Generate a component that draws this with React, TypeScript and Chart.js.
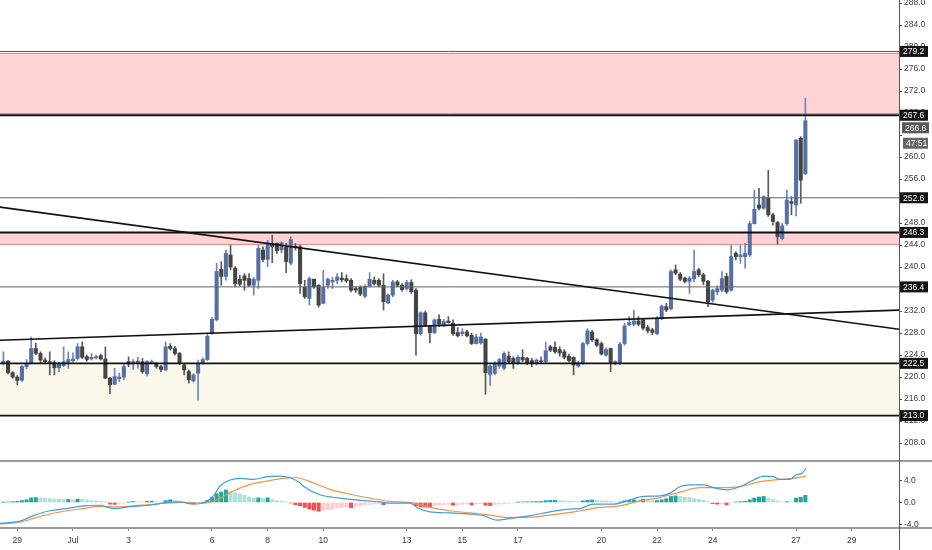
import React, { useEffect, useRef } from "react";
import { Chart, registerables } from "chart.js";

Chart.register(...registerables);

// ---- time axis (days counted from Jun 28 00:00) ----
const START_DAY = 0.5; // first candle: Jun 28 12:00
const STEP_DAY = 1 / 6; // 4h candles
const X_RANGE = [0.378, 32.7];
const X_TICK_DAYS = [1, 3, 5, 8, 10, 12, 15, 17, 19, 22, 24, 26, 29, 31];
const X_TICK_LABELS = ["29", "Jul", "3", "6", "8", "10", "13", "15", "17", "20", "22", "24", "27", "29"];

// ---- price pane ----
const PRICE_RANGE = [204.75, 288.55];
const PRICE_TICKS = [208, 212, 216, 220, 224, 228, 232, 236, 240, 244, 248, 252, 256, 260, 264, 268, 272, 276, 280, 284, 288];

const OPEN = [
  222.6, 222.9, 220.8, 220.0, 219.4, 221.9, 222.5, 225.2, 224.3, 223.1,
  222.8, 222.6, 221.7, 222.1, 222.7, 223.0, 223.4, 225.5, 223.7, 223.3,
  223.5, 223.9, 223.3, 219.8, 218.7, 219.7, 220.0, 222.8, 222.4, 222.5,
  222.8, 220.6, 222.6, 222.5, 221.9, 221.3, 225.6, 225.2, 224.3, 222.2,
  221.0, 219.3, 220.7, 222.5, 223.2, 228.0, 230.4, 239.6, 238.3, 242.2,
  239.8, 237.8, 238.4, 237.9, 236.7, 237.6, 243.1, 241.4, 244.3, 244.3,
  243.1, 243.6, 240.7, 243.8, 243.7, 236.3, 234.3, 237.8, 236.7, 233.4,
  236.7, 237.3, 237.6, 238.0, 237.9, 237.6, 236.1, 236.3, 234.7, 236.5,
  237.6, 237.6, 236.7, 233.5, 234.9, 237.3, 236.7, 236.1, 237.2, 235.8,
  227.9, 231.7, 229.2, 228.1, 230.5, 229.3, 230.2, 229.8, 228.1, 227.9,
  228.2, 227.6, 226.1, 226.2, 226.9, 220.5, 220.7, 222.0, 221.6, 223.8,
  223.4, 222.5, 223.6, 223.4, 223.0, 222.6, 222.9, 222.8, 225.5, 225.4,
  225.0, 224.6, 223.8, 223.6, 222.0, 222.5, 226.1, 228.2, 226.8, 226.1,
  224.0, 225.2, 222.4, 222.5, 226.1, 229.5, 229.6, 230.2, 230.4, 229.0,
  228.6, 227.9, 230.6, 232.8, 232.4, 239.5, 238.7, 238.0, 237.4, 237.9,
  239.5, 238.6, 237.4, 234.0, 235.5, 235.8, 238.3, 235.8, 242.5, 241.9,
  241.9, 242.2, 247.9, 251.3, 250.7, 252.5, 249.5, 248.1, 245.2, 247.9,
  251.9, 251.3, 263.4, 257.0,
];
const HIGH = [
  224.6, 223.0, 221.0, 220.3, 222.1, 223.2, 227.3, 226.2, 224.6, 223.5,
  224.6, 223.0, 222.7, 225.5, 224.6, 224.4, 226.1, 226.4, 224.0, 224.3,
  224.0, 224.2, 225.5, 219.9, 221.6, 220.7, 222.5, 223.7, 223.2, 223.6,
  223.4, 223.0, 223.1, 222.7, 222.2, 226.4, 226.1, 225.6, 224.5, 222.5,
  221.3, 220.6, 223.1, 223.5, 228.0, 230.8, 240.7, 241.0, 243.1, 244.0,
  240.1, 238.5, 238.8, 238.8, 238.1, 244.0, 243.7, 244.9, 245.8, 244.4,
  244.6, 244.3, 245.5, 244.3, 244.0, 237.6, 238.2, 237.8, 236.8, 239.4,
  238.0, 238.2, 238.8, 239.0, 238.6, 237.9, 236.4, 236.6, 236.8, 239.0,
  238.2, 237.9, 238.8, 235.1, 237.6, 237.6, 237.0, 237.6, 237.7, 236.1,
  231.9, 232.0, 229.3, 230.6, 231.3, 230.5, 231.0, 230.4, 229.0, 228.8,
  228.5, 228.0, 227.8, 228.0, 227.0, 222.2, 222.8, 223.4, 224.6, 224.6,
  223.7, 223.9, 225.0, 223.6, 223.4, 223.3, 223.7, 226.4, 225.8, 226.4,
  225.5, 225.0, 224.2, 223.7, 222.9, 226.3, 228.8, 228.5, 227.0, 226.4,
  225.3, 225.3, 223.0, 226.3, 229.8, 231.0, 232.2, 231.0, 230.7, 229.4,
  228.9, 231.0, 233.1, 233.4, 239.5, 240.4, 239.0, 238.2, 238.3, 243.1,
  239.8, 238.9, 237.6, 236.0, 236.6, 239.2, 238.9, 244.0, 242.8, 244.0,
  244.3, 248.3, 254.0, 254.3, 253.0, 257.6, 249.8, 248.3, 247.95, 254.0,
  252.8, 263.2, 263.7, 270.7,
];
const LOW = [
  222.2, 220.6, 219.8, 218.6, 219.2, 221.5, 222.4, 224.1, 222.5, 222.6,
  220.4, 220.4, 221.0, 221.9, 221.6, 222.7, 223.1, 223.4, 222.9, 223.1,
  223.3, 223.1, 219.7, 217.0, 218.6, 219.2, 219.5, 221.9, 221.4, 221.6,
  220.7, 220.2, 222.4, 221.6, 221.0, 221.2, 224.9, 224.0, 222.3, 220.4,
  218.9, 219.1, 215.8, 222.3, 223.0, 227.8, 230.2, 236.7, 237.6, 239.5,
  236.4, 236.5, 235.8, 236.5, 234.9, 236.1, 241.0, 240.1, 240.8, 242.5,
  242.6, 239.0, 240.4, 243.1, 235.2, 234.3, 233.1, 236.1, 232.7, 233.3,
  236.1, 236.1, 237.0, 237.3, 237.2, 235.5, 235.4, 234.8, 234.4, 236.4,
  236.7, 236.4, 232.2, 233.3, 234.6, 236.4, 235.6, 235.8, 235.2, 224.0,
  227.6, 229.2, 226.2, 227.9, 229.2, 229.2, 229.8, 227.6, 227.3, 227.5,
  227.3, 225.9, 226.0, 226.0, 216.9, 218.5, 220.4, 221.6, 221.3, 222.6,
  221.6, 222.3, 222.8, 222.3, 221.9, 222.2, 222.5, 222.6, 224.6, 224.3,
  223.8, 223.3, 222.7, 220.4, 221.8, 222.3, 225.8, 226.5, 225.5, 224.0,
  223.8, 221.0, 222.2, 222.3, 225.8, 229.3, 229.3, 229.3, 228.6, 228.0,
  227.7, 227.7, 230.4, 231.9, 232.2, 238.6, 237.5, 237.1, 235.2, 237.3,
  238.3, 236.8, 232.8, 233.6, 235.0, 235.5, 235.2, 235.6, 241.3, 240.7,
  239.8, 241.9, 247.8, 250.4, 250.5, 249.2, 247.6, 244.2, 244.9, 247.6,
  249.5, 249.3, 251.6, 256.8,
];
const CLOSE = [
  222.9, 220.8, 220.0, 219.4, 221.9, 222.5, 225.2, 224.3, 223.1, 222.8,
  222.5, 221.7, 222.5, 222.8, 223.2, 223.3, 225.5, 223.6, 223.2, 223.6,
  223.7, 223.3, 219.8, 218.6, 220.1, 220.0, 221.9, 222.4, 222.8, 222.9,
  221.0, 222.8, 222.8, 221.9, 221.4, 225.5, 225.2, 224.3, 222.5, 221.3,
  219.5, 220.4, 222.5, 223.2, 227.4, 230.5, 239.2, 238.3, 242.5, 240.0,
  237.0, 236.9, 237.6, 236.7, 237.8, 243.4, 241.4, 244.4, 243.7, 243.0,
  244.4, 241.0, 245.0, 243.5, 237.0, 234.6, 237.9, 236.4, 233.1, 236.3,
  237.8, 237.6, 238.2, 237.7, 237.5, 235.8, 235.8, 235.1, 236.5, 237.8,
  237.0, 236.7, 233.7, 234.9, 237.3, 236.7, 235.9, 237.2, 235.5, 227.9,
  231.7, 229.5, 228.1, 230.4, 229.6, 230.1, 229.9, 227.9, 227.5, 228.2,
  227.5, 226.1, 227.3, 227.3, 220.8, 222.0, 222.5, 223.2, 224.3, 222.8,
  222.5, 223.6, 223.1, 222.6, 222.6, 223.1, 222.8, 224.8, 224.9, 224.6,
  224.4, 223.6, 223.0, 222.2, 222.6, 226.1, 228.4, 226.8, 225.8, 224.2,
  225.0, 222.5, 222.8, 226.0, 229.3, 229.9, 230.2, 229.6, 228.9, 228.4,
  228.1, 230.7, 232.9, 232.2, 239.2, 238.9, 237.8, 237.4, 238.0, 239.2,
  238.6, 237.4, 233.7, 235.8, 236.1, 237.9, 235.5, 241.9, 241.9, 242.2,
  242.5, 247.9, 250.5, 250.7, 252.8, 249.5, 248.3, 245.5, 247.5, 252.2,
  251.6, 263.1, 255.8, 266.6,
];

// horizontal levels, zones and trend lines (price values; trend points are [day, price])
const LEVELS = [279.2, 267.6, 252.6, 246.3, 236.4, 222.5, 213.0];
const RED_ZONES = [
  [279.0, 268.0],
  [246.3, 244.2],
];
const SUPPORT_ZONE = [222.5, 213.0];
const TREND_DOWN = [
  [0.378, 250.9],
  [28.78, 231.4],
];
const TREND_UP = [
  [0.378, 226.7],
  [29.86, 231.7],
];
const COUNTDOWN = "47:51";

// ---- MACD pane ----
const MACD_RANGE = [-4.64, 7.55];
const MACD_TICKS = [-4, 0, 4];
const HIST = [
  0.05, 0.1, 0.15, 0.2, 0.35, 0.5, 0.85, 0.9, 0.85, 0.8, 0.7, 0.65, 0.6, 0.55, 0.55, 0.5, 0.6, 0.55, 0.45, 0.35, 0.3, 0.2,
  0.05, -0.3, -0.35, -0.25, -0.05, 0.05, 0.15, 0.12, 0.1, 0.2, 0.25, 0.15, 0.1, 0.35, 0.5, 0.4, 0.25, 0.05, -0.15, -0.2, -0.1, 0.05,
  0.4, 0.9, 1.6, 1.9, 2.3, 2.0, 1.8, 1.6, 1.3, 1.0, 0.8, 0.85, 0.7, 0.85, 0.5, 0.35, 0.25, 0.05, -0.1, -0.4, -0.6,
  -0.9, -1.2, -1.4, -1.6, -1.4, -1.3, -1.2, -1.0, -0.9, -0.8, -0.95, -0.7, -0.6, -0.4, -0.35, -0.3, -0.2, -0.4, -0.2, -0.15, -0.1, -0.05, -0.02, -0.05,
  -0.6, -0.8, -0.85, -0.9, -0.6, -0.5, -0.4, -0.35, -0.5, -0.4, -0.3, -0.25, -0.45, -0.3, -0.2, -0.5, -0.55, -0.4, -0.3, -0.25, -0.15, -0.08,
  0.05, 0.1, 0.12, 0.15, 0.18, 0.2, 0.35, 0.4, 0.4, 0.35, 0.3, 0.25, 0.2, 0.15, 0.3, 0.4,
  0.45, 0.4, 0.35, 0.3, 0.2, 0.08, 0.1, 0.3, 0.4, 0.5, 0.45, 0.6, 0.45, 0.3, 0.35, 0.5, 0.7, 1.1, 1.2, 1.1, 1.0, 0.9, 0.7, 0.6,
  0.4, 0.15, -0.2, -0.3, -0.25, -0.45, -0.1, 0.1, 0.15, 0.2, 0.5, 0.8, 1.0, 1.1, 0.8, 0.55, 0.3, 0.1, 0.15, 0.1, 0.8, 0.95, 1.3,
];
const MACD_POINTS = [
  [0.378, -3.8], [1.097, -3.4], [1.575, -2.4], [2.175, -1.5], [2.776, -1.1], [3.372, -0.6], [3.973, -0.5],
  [4.452, -1.1], [5.17, -0.7], [5.77, -0.5], [6.37, 0.0], [6.85, 0.1], [7.33, -0.3], [7.69, -0.1], [8.05, 1.2],
  [8.29, 3.0], [8.65, 4.1], [9.01, 4.4], [9.49, 4.2], [9.97, 4.7], [10.45, 4.8], [10.81, 4.5], [11.16, 3.6],
  [11.3, 2.9], [11.88, 1.4], [12.6, 0.8], [13.32, 0.4], [14.04, 0.1], [14.4, -0.1], [15.12, -0.1], [15.36, -0.9],
  [15.84, -1.7], [16.56, -1.9], [17.28, -2.1], [17.76, -2.4], [18.24, -3.2], [18.72, -2.9], [19.44, -2.4],
  [20.15, -1.7], [20.87, -1.2], [21.23, -1.1], [21.71, -0.3], [22.43, -0.3], [23.03, 0.5], [23.51, 1.1],
  [24.11, 1.2], [24.47, 1.7], [24.83, 2.9], [25.19, 3.2], [25.67, 3.2], [26.03, 2.7], [26.51, 2.3], [26.99, 2.9],
  [27.47, 4.1], [27.83, 4.8], [28.18, 4.7], [28.42, 4.2], [28.78, 4.2], [29.02, 5.1], [29.21, 5.3], [29.36, 6.2],
];
const SIGNAL_POINTS = [
  [0.378, -3.9], [1.097, -3.6], [1.575, -2.9], [2.175, -2.1], [2.776, -1.5], [3.372, -1.1], [3.973, -0.7],
  [4.57, -0.8], [5.17, -0.6], [5.77, -0.4], [6.37, -0.1], [7.09, 0.0], [7.69, -0.1], [8.17, 0.5], [8.77, 2.1],
  [9.37, 3.3], [9.97, 3.9], [10.56, 4.4], [11.05, 4.5], [11.52, 3.8], [11.88, 3.1], [12.24, 2.4], [12.96, 1.5],
  [13.68, 0.8], [14.4, 0.2], [15.12, 0.0], [15.84, -0.9], [16.56, -1.5], [17.28, -1.9], [18.0, -2.3],
  [18.6, -2.7], [19.44, -2.7], [20.15, -2.3], [20.87, -1.8], [21.23, -1.5], [21.95, -0.9], [22.67, -0.6],
  [23.39, 0.3], [24.11, 0.9], [24.83, 1.9], [25.55, 2.7], [26.27, 2.7], [26.99, 2.9], [27.71, 3.8],
  [28.42, 4.2], [28.9, 4.4], [29.36, 4.8],
];

// ---- styles ----
const FONT = "'Liberation Sans', Arial, sans-serif";
const UP = "#5670a6";
const DOWN = "#454545";
const UP_WICK = "#6f86b8";
const DOWN_WICK = "#5a5a5a";
const LEVEL_COLORS = ["#555555", "#111111", "#666666", "#111111", "#666666", "#111111", "#111111"];
const LEVEL_WIDTHS = [1, 2, 1, 2, 1, 1.6, 1.6];

function histColor(v: number, prev: number) {
  if (v >= 0) return v >= prev ? "#26a69a" : "#b2dfdb";
  return v < prev ? "#ef5350" : "#ffcdd2";
}

const overlay = {
  id: "overlay",
  beforeDatasetsDraw(chart: any) {
    const { ctx, chartArea } = chart;
    const ys = chart.scales.y;
    const L = chartArea.left;
    const R = chartArea.right;
    ctx.save();
    const s0 = ys.getPixelForValue(SUPPORT_ZONE[0]);
    const s1 = ys.getPixelForValue(SUPPORT_ZONE[1]);
    ctx.fillStyle = "#f9f8eb";
    ctx.fillRect(L, s0, R - L, s1 - s0);
    for (const [a, b] of RED_ZONES) {
      const ya = ys.getPixelForValue(a);
      const yb = ys.getPixelForValue(b);
      ctx.fillStyle = "#ffd2d5";
      ctx.fillRect(L, ya, R - L, yb - ya);
      ctx.strokeStyle = "#ee8a8f";
      ctx.lineWidth = 1;
      for (const p of [ya, yb]) {
        ctx.beginPath();
        ctx.moveTo(L, Math.round(p) + 0.5);
        ctx.lineTo(R, Math.round(p) + 0.5);
        ctx.stroke();
      }
    }
    ctx.restore();
  },
  afterDatasetsDraw(chart: any) {
    const { ctx, chartArea } = chart;
    const ys = chart.scales.y;
    const xs = chart.scales.x;
    const L = chartArea.left;
    const R = chartArea.right;
    ctx.save();
    ctx.beginPath();
    ctx.rect(L, ys.top, R - L, ys.bottom - ys.top);
    ctx.clip();
    LEVELS.forEach((v, i) => {
      const p = ys.getPixelForValue(v);
      ctx.strokeStyle = LEVEL_COLORS[i];
      ctx.lineWidth = LEVEL_WIDTHS[i];
      ctx.beginPath();
      ctx.moveTo(L, p);
      ctx.lineTo(R, p);
      ctx.stroke();
    });
    const tL = xs.getValueForPixel(L);
    const tR = xs.getValueForPixel(R);
    for (const line of [TREND_DOWN, TREND_UP]) {
      const [[t0, v0], [t1, v1]] = line;
      const k = (v1 - v0) / (t1 - t0);
      ctx.strokeStyle = "#111111";
      ctx.lineWidth = 1.6;
      ctx.beginPath();
      ctx.moveTo(L, ys.getPixelForValue(v0 + k * (tL - t0)));
      ctx.lineTo(R, ys.getPixelForValue(v0 + k * (tR - t0)));
      ctx.stroke();
    }
    ctx.restore();
  },
  afterDraw(chart: any) {
    const { ctx, chartArea, width, height } = chart;
    const ys = chart.scales.y;
    ctx.save();
    ctx.strokeStyle = "#9b9b9b";
    ctx.lineWidth = 2;
    ctx.beginPath();
    ctx.moveTo(0, ys.bottom);
    ctx.lineTo(width, ys.bottom);
    ctx.stroke();
    ctx.beginPath();
    ctx.moveTo(0, chartArea.bottom);
    ctx.lineTo(width, chartArea.bottom);
    ctx.stroke();
    ctx.strokeStyle = "#555555";
    ctx.lineWidth = 1;
    ctx.beginPath();
    ctx.moveTo(chartArea.right + 0.5, 0);
    ctx.lineTo(chartArea.right + 0.5, height);
    ctx.stroke();

    const boxH = 11;
    const R = chartArea.right;
    ctx.font = "8.5px " + FONT;
    ctx.textBaseline = "middle";
    ctx.textAlign = "left";
    const drawBox = (bx: number, bw: number, cy: number, h: number, text: string, bg: string) => {
      ctx.fillStyle = bg;
      ctx.fillRect(bx, cy - h / 2, bw, h);
      ctx.fillStyle = "#ffffff";
      ctx.fillText(text, bx + 3, cy + 0.5);
    };
    const centers = LEVELS.map((v) => ys.getPixelForValue(v));
    LEVELS.forEach((v, i) => drawBox(R + 1, 28, centers[i], boxH, v.toFixed(1), "#141414"));
    const last = CLOSE[CLOSE.length - 1];
    let cy = ys.getPixelForValue(last);
    for (const c of centers) if (Math.abs(cy - c) < boxH) cy = c + boxH + 1.5;
    // cover the area between the price and the countdown label
    ctx.fillStyle = "#ffffff";
    ctx.fillRect(R + 4, cy + boxH / 2, 28, 5);
    drawBox(R + 3, 27, cy, boxH, last.toFixed(1), "#595959");
    drawBox(R + 4, 25, cy + 15.5, boxH, COUNTDOWN, "#676767");
    ctx.restore();
  },
};

export default function App() {
  const ref = useRef<HTMLCanvasElement>(null);
  useEffect(() => {
    document.body.style.margin = "0";
    const canvas = ref.current;
    if (!canvas) return;
    const times = OPEN.map((_, i) => START_DAY + i * STEP_DAY);
    const isUp = OPEN.map((o, i) => CLOSE[i] >= o);
    const tickFont = { family: FONT, size: 8.5 };

    const chart = new Chart(canvas, {
      type: "bar",
      data: {
        datasets: [
          {
            type: "bar",
            label: "body",
            data: times.map((t, i) => ({ x: t, y: [OPEN[i], CLOSE[i]] })),
            backgroundColor: isUp.map((u) => (u ? UP : DOWN)),
            barThickness: 3.4,
            grouped: false,
            minBarLength: 1,
            borderWidth: 0,
            xAxisID: "x",
            yAxisID: "y",
          },
          {
            type: "bar",
            label: "wick",
            data: times.map((t, i) => ({ x: t, y: [LOW[i], HIGH[i]] })),
            backgroundColor: isUp.map((u) => (u ? UP_WICK : DOWN_WICK)),
            barThickness: 1,
            grouped: false,
            borderWidth: 0,
            xAxisID: "x",
            yAxisID: "y",
          },
          {
            type: "line",
            label: "MACD",
            data: MACD_POINTS.map(([t, v]) => ({ x: t, y: v })),
            borderColor: "#3f9de6",
            borderWidth: 1.2,
            pointRadius: 0,
            cubicInterpolationMode: "monotone",
            xAxisID: "x",
            yAxisID: "m",
          },
          {
            type: "line",
            label: "Signal",
            data: SIGNAL_POINTS.map(([t, v]) => ({ x: t, y: v })),
            borderColor: "#f0944a",
            borderWidth: 1.2,
            pointRadius: 0,
            cubicInterpolationMode: "monotone",
            xAxisID: "x",
            yAxisID: "m",
          },
          {
            type: "bar",
            label: "Histogram",
            data: times.map((t, i) => ({ x: t, y: HIST[i] })),
            backgroundColor: HIST.map((v, i) => histColor(v, i > 0 ? HIST[i - 1] : 0)),
            barThickness: 3.4,
            grouped: false,
            borderWidth: 0,
            xAxisID: "x",
            yAxisID: "m",
          },
        ],
      },
      options: {
        animation: false,
        responsive: false,
        maintainAspectRatio: false,
        events: [],
        layout: { padding: 0 },
        plugins: { legend: { display: false }, tooltip: { enabled: false } },
        scales: {
          x: {
            type: "linear",
            min: X_RANGE[0],
            max: X_RANGE[1],
            offset: false,
            afterBuildTicks: (s: any) => {
              s.ticks = X_TICK_DAYS.map((v) => ({ value: v }));
            },
            afterFit: (s: any) => {
              s.height = 22;
              s.paddingLeft = 0;
              s.paddingRight = 0;
            },
            ticks: {
              autoSkip: false,
              maxRotation: 0,
              padding: 5,
              color: "#3a3a3a",
              font: tickFont,
              callback: (value: any) => {
                const i = X_TICK_DAYS.indexOf(value);
                return i >= 0 ? X_TICK_LABELS[i] : "";
              },
            },
            grid: { offset: false, drawOnChartArea: false, drawTicks: true, tickLength: 3, color: "#8a8a8a" },
            border: { display: false },
          },
          y: {
            type: "linear",
            position: "right",
            stack: "panes",
            stackWeight: 461,
            min: PRICE_RANGE[0],
            max: PRICE_RANGE[1],
            afterBuildTicks: (s: any) => {
              s.ticks = PRICE_TICKS.map((v) => ({ value: v }));
            },
            afterFit: (s: any) => {
              s.width = 33;
              s.paddingTop = 0;
              s.paddingBottom = 0;
            },
            ticks: {
              autoSkip: false,
              padding: 2,
              color: "#3a3a3a",
              font: tickFont,
              callback: (value: any) => Number(value).toFixed(1),
            },
            grid: { drawOnChartArea: false, drawTicks: true, tickLength: 3, color: "#555555" },
            border: { display: false },
          },
          m: {
            type: "linear",
            position: "right",
            stack: "panes",
            stackWeight: 67,
            min: MACD_RANGE[0],
            max: MACD_RANGE[1],
            afterBuildTicks: (s: any) => {
              s.ticks = MACD_TICKS.map((v) => ({ value: v }));
            },
            afterFit: (s: any) => {
              s.width = 33;
              s.paddingTop = 0;
              s.paddingBottom = 0;
            },
            ticks: {
              autoSkip: false,
              padding: 2,
              color: "#3a3a3a",
              font: tickFont,
              callback: (value: any) => Number(value).toFixed(1),
            },
            grid: { drawOnChartArea: false, drawTicks: true, tickLength: 3, color: "#555555" },
            border: { display: false },
          },
        },
      } as any,
      plugins: [overlay],
    } as any);
    return () => chart.destroy();
  }, []);
  return <canvas ref={ref} width={932} height={550} style={{ display: "block", width: 932, height: 550 }} />;
}
